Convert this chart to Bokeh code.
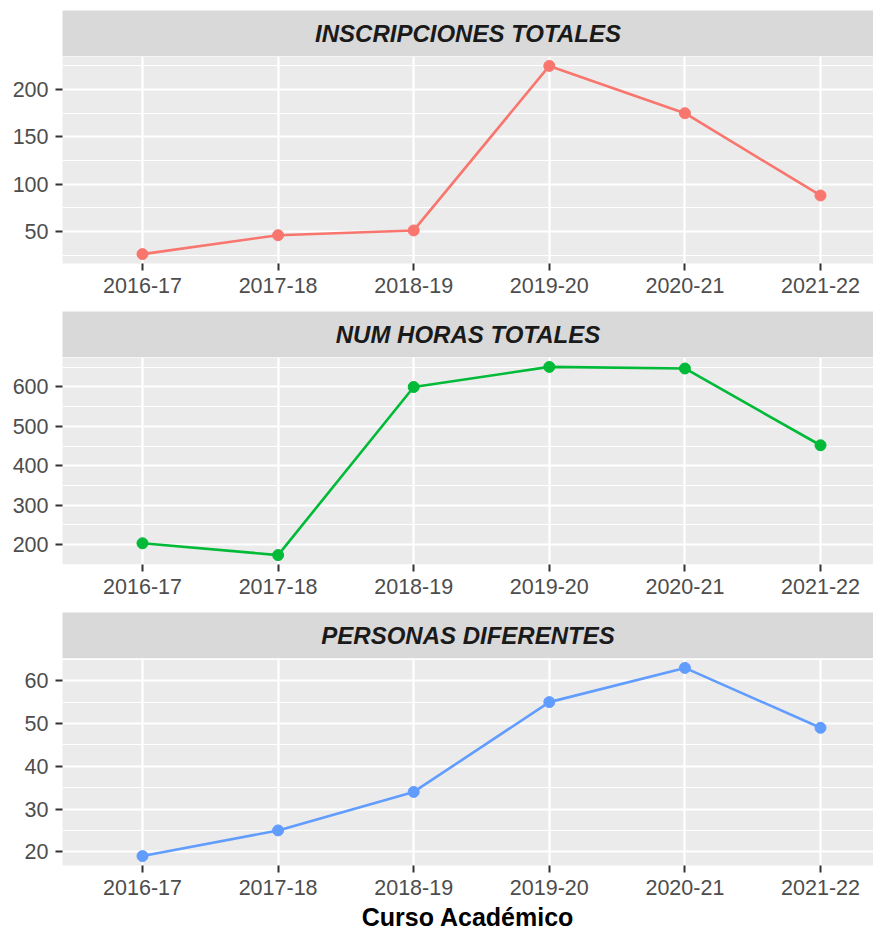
from bokeh.plotting import figure
from bokeh.layouts import column
from bokeh.models import Range1d, FixedTicker, ColumnDataSource
from bokeh.core.properties import value
from bokeh.embed import file_html
from bokeh.resources import INLINE

# ---------------- data ----------------
cursos = ["2016-17", "2017-18", "2018-19", "2019-20", "2020-21", "2021-22"]
inscripciones = [26, 46, 51, 225, 175, 88]
horas = [203, 173, 600, 651, 647, 452]
personas = [19, 25, 34, 55, 63, 49]
titulos = ["INSCRIPCIONES TOTALES", "NUM HORAS TOTALES", "PERSONAS DIFERENTES"]
colores = ["#F8766D", "#00BA38", "#619CFF"]
y_ticks = [[50, 100, 150, 200], [200, 300, 400, 500, 600], [20, 30, 40, 50, 60]]
y_minor = [[25, 75, 125, 175, 225], [150, 250, 350, 450, 550, 650], [25, 35, 45, 55, 65]]
x_label = "Curso Académico"

series = [inscripciones, horas, personas]

FONT = "Liberation Sans"
LEFT = 62
FW = 811
FH = 207
PX_PER_CAT = 135.6
X_START = 1 - 80 / PX_PER_CAT


def make_strip(title, top):
    s = figure(frame_width=FW, frame_height=46, x_range=Range1d(0, 1), y_range=Range1d(0, 1),
               toolbar_location=None, output_backend="svg",
               x_axis_location=None, y_axis_location=None,
               min_border_left=LEFT, min_border_right=0, min_border_top=top, min_border_bottom=0)
    s.grid.visible = False
    s.background_fill_color = "#D9D9D9"
    s.border_fill_color = "white"
    s.outline_line_color = None
    s.text(x=[0.5], y=[0.5], text=[title], text_align="center", text_baseline="middle",
           text_font=value(FONT), text_font_size="24px", text_font_style="bold italic",
           text_color="#1A1A1A")
    return s


def make_panel(vals, color, ticks, minor, last):
    lo, hi = min(vals), max(vals)
    pad = 0.05 * (hi - lo)
    xs = list(range(1, len(cursos) + 1))
    p = figure(frame_width=FW, frame_height=FH,
               x_range=Range1d(X_START, X_START + FW / PX_PER_CAT),
               y_range=Range1d(lo - pad, hi + pad),
               toolbar_location=None, output_backend="svg",
               min_border_left=LEFT, min_border_right=0, min_border_top=0,
               min_border_bottom=0 if last else 48)
    p.background_fill_color = "#EBEBEB"
    p.border_fill_color = "white"
    p.outline_line_color = None

    src = ColumnDataSource(dict(x=xs, y=vals, curso=cursos))
    p.line("x", "y", source=src, line_color=color, line_width=2.6)
    p.scatter("x", "y", source=src, size=11, fill_color=color, line_color=color)

    xt = FixedTicker(ticks=xs, minor_ticks=[])
    p.xaxis.ticker = xt
    p.xgrid.ticker = xt
    p.xaxis.major_label_overrides = {x: c for x, c in zip(xs, cursos)}
    yt = FixedTicker(ticks=ticks, minor_ticks=minor)
    p.yaxis.ticker = yt
    p.ygrid.ticker = yt

    p.grid.grid_line_color = "white"
    p.grid.grid_line_width = 2.2
    p.ygrid.minor_grid_line_color = "white"
    p.ygrid.minor_grid_line_width = 1.1

    for ax in (p.xaxis, p.yaxis):
        ax.axis_line_color = None
        ax.major_tick_line_color = "#333333"
        ax.major_tick_line_width = 2
        ax.major_tick_in = 0
        ax.major_tick_out = 7
        ax.minor_tick_line_color = None
        ax.major_label_text_font = FONT
        ax.major_label_text_font_size = "21.5px"
        ax.major_label_text_color = "#4D4D4D"
    p.xaxis.major_label_standoff = 7
    p.yaxis.major_label_standoff = 7

    if last:
        p.xaxis.axis_label = x_label
        p.xaxis.axis_label_text_font = FONT
        p.xaxis.axis_label_text_font_size = "25px"
        p.xaxis.axis_label_text_font_style = "bold"
        p.xaxis.axis_label_text_color = "black"
        p.xaxis.axis_label_standoff = 5
    return p


children = []
for i, (vals, title, color) in enumerate(zip(series, titulos, colores)):
    children.append(make_strip(title, 10 if i == 0 else 0))
    children.append(make_panel(vals, color, y_ticks[i], y_minor[i], i == len(series) - 1))

layout = column(*children, spacing=0)

open("out.html", "w").write(file_html(layout, INLINE))
